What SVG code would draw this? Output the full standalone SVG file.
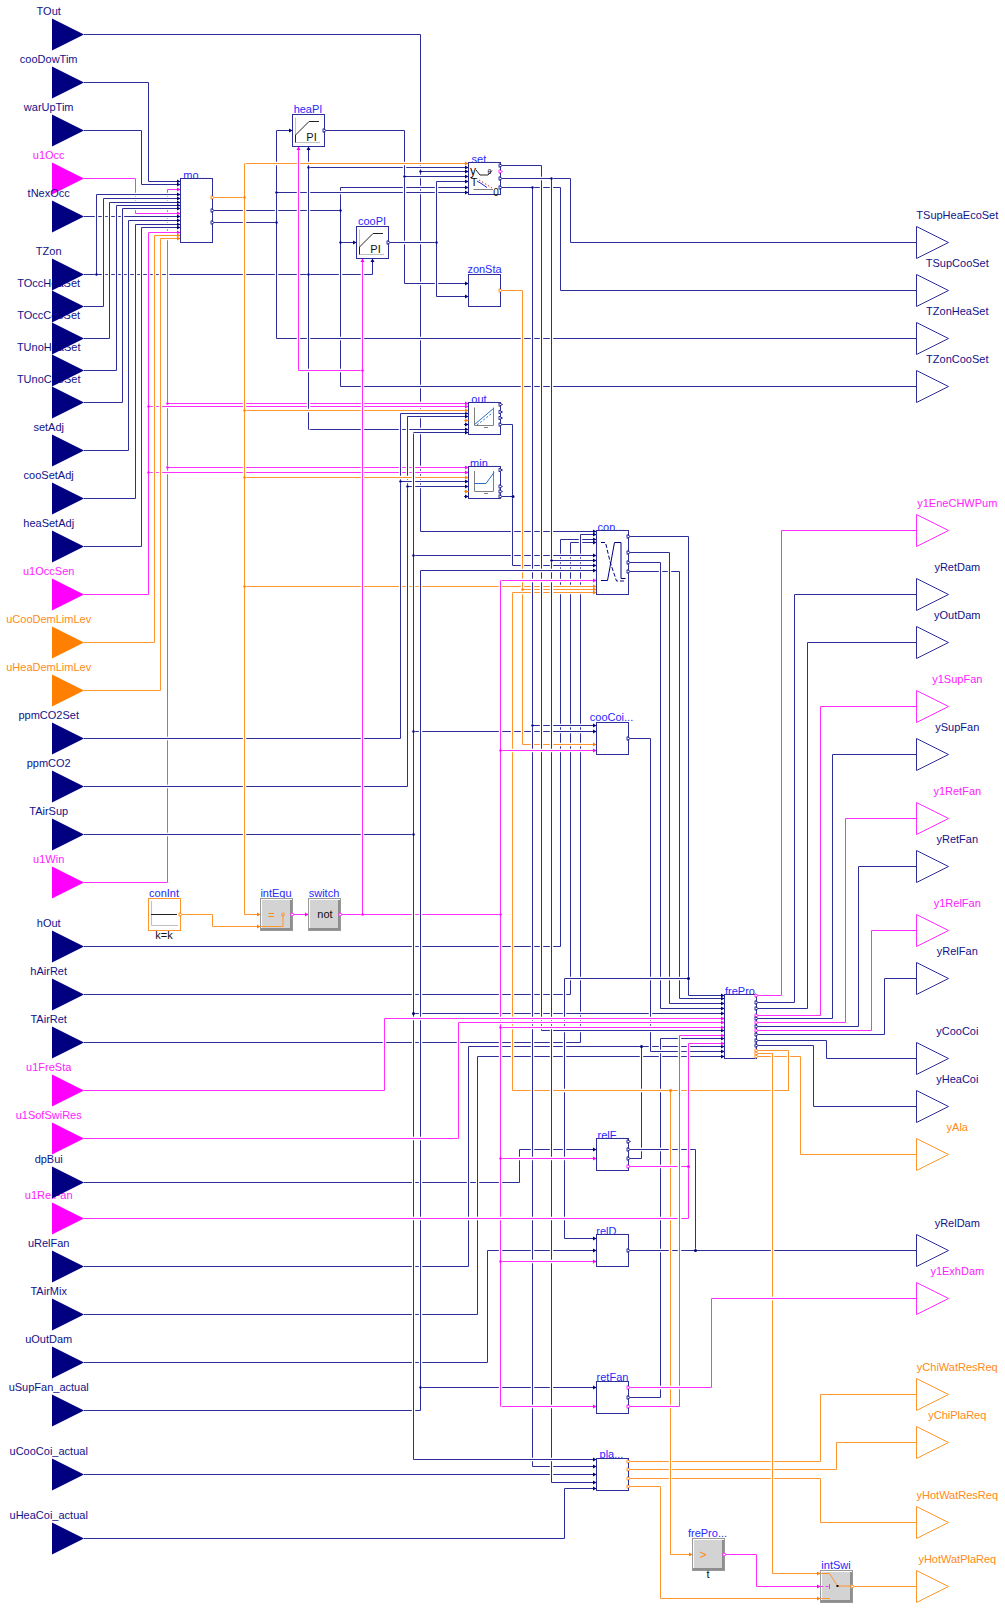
<svg xmlns="http://www.w3.org/2000/svg" width="1005" height="1609" viewBox="0 0 1005 1609">
<style>
text{font-family:"Liberation Sans",Arial,sans-serif;font-size:11px;text-anchor:middle}
.tn{fill:#12128a}.tm{fill:#ff20ff}.to{fill:#ff8a14}.tb{fill:#2828ff}.tk{fill:#111}
path{fill:none;stroke-linejoin:miter}
.c{stroke:#fff;stroke-width:3.4}
.n{stroke:#2e2e9a;stroke-width:1}.m{stroke:#ff2eff;stroke-width:1}.o{stroke:#ff952e;stroke-width:1}
.n.e{marker-end:url(#an)}.m.e{marker-end:url(#am)}.o.e{marker-end:url(#ao)}
.fn{fill:#000080;stroke:none}.fm{fill:#ff00ff;stroke:none}.fo{fill:#ff8000;stroke:none}
.on{fill:#fff;stroke:#2e2e9a}.om{fill:#fff;stroke:#ff2eff}.oo{fill:#fff;stroke:#ff952e}
.b{fill:#fff;stroke:#2e2e9a;stroke-width:1}
.g{fill:#fff;stroke:#999;stroke-width:1}.gi{fill:#d3d3d3;stroke:none}.gd{fill:#8e8e8e;stroke:none}
.ax{stroke:#c0c0c0;stroke-width:1}.k{stroke:#222;stroke-width:1}
.ib{stroke:#2a6fc0;stroke-width:1}.ax2{stroke:#808080;stroke-width:1}
.jn{fill:#000080}.jm{fill:#ff00ff}.jo{fill:#ff8000}
</style>
<defs>
<marker id="an" markerUnits="userSpaceOnUse" markerWidth="5" markerHeight="5" refX="4" refY="2.5" orient="auto"><path d="M0.5 0.5L4 2.5L0.5 4.5z" class="fn"/></marker>
<marker id="am" markerUnits="userSpaceOnUse" markerWidth="5" markerHeight="5" refX="4" refY="2.5" orient="auto"><path d="M0.5 0.5L4 2.5L0.5 4.5z" class="fm"/></marker>
<marker id="ao" markerUnits="userSpaceOnUse" markerWidth="5" markerHeight="5" refX="4" refY="2.5" orient="auto"><path d="M0.5 0.5L4 2.5L0.5 4.5z" class="fo"/></marker>
<path id="pn" class="on" d="M-1.5-1.8L2 0L-1.5 1.8z"/>
<path id="pm" class="om" d="M-1.5-1.8L2 0L-1.5 1.8z"/>
<path id="po" class="oo" d="M-1.5-1.8L2 0L-1.5 1.8z"/>
</defs>
<rect width="1005" height="1609" fill="#fff"/>
<g id="connectors">
<path class="c" d="M756.5 995.5H781.5V530.5H916.5"/><path class="m" d="M756.5 995.5H781.5V530.5H916.5"/>
<path class="c" d="M756.5 1002.5H794.5V594.5H916.5"/><path class="n" d="M756.5 1002.5H794.5V594.5H916.5"/>
<path class="c" d="M756.5 1008.5H807.5V642.5H916.5"/><path class="n" d="M756.5 1008.5H807.5V642.5H916.5"/>
<path class="c" d="M756.5 1015.5H820.5V706.5H916.5"/><path class="m" d="M756.5 1015.5H820.5V706.5H916.5"/>
<path class="c" d="M756.5 1018.5H832.5V754.5H916.5"/><path class="n" d="M756.5 1018.5H832.5V754.5H916.5"/>
<path class="c" d="M756.5 1022.5H845.5V818.5H916.5"/><path class="m" d="M756.5 1022.5H845.5V818.5H916.5"/>
<path class="c" d="M756.5 1026.5H858.5V866.5H916.5"/><path class="n" d="M756.5 1026.5H858.5V866.5H916.5"/>
<path class="c" d="M756.5 1030.5H871.5V930.5H916.5"/><path class="m" d="M756.5 1030.5H871.5V930.5H916.5"/>
<path class="c" d="M756.5 1034.5H884.5V978.5H916.5"/><path class="n" d="M756.5 1034.5H884.5V978.5H916.5"/>
<path class="c" d="M756.5 1040.5H826.5V1058.5H916.5"/><path class="n" d="M756.5 1040.5H826.5V1058.5H916.5"/>
<path class="c" d="M756.5 1045.5H813.5V1106.5H916.5"/><path class="n" d="M756.5 1045.5H813.5V1106.5H916.5"/>
<path class="c" d="M756.5 1056.5H800.5V1154.5H916.5"/><path class="o" d="M756.5 1056.5H800.5V1154.5H916.5"/>
<path class="c" d="M628.5 1461.5H820.5V1394.5H916.5"/><path class="o" d="M628.5 1461.5H820.5V1394.5H916.5"/>
<path class="c" d="M628.5 1469.5H836.5V1442.5H916.5"/><path class="o" d="M628.5 1469.5H836.5V1442.5H916.5"/>
<path class="c" d="M628.5 1478.5H820.5V1522.5H916.5"/><path class="o" d="M628.5 1478.5H820.5V1522.5H916.5"/>
<path class="c" d="M84 34.5H420.5V531.5H596.5"/><path class="n e" d="M84 34.5H420.5V531.5H596.5"/>
<path class="c" d="M420.5 171.5H468.5"/><path class="n e" d="M420.5 171.5H468.5"/>
<path class="c" d="M84 274.5H372.5V258.5"/><path class="n e" d="M84 274.5H372.5V258.5"/>
<path class="c" d="M212.5 210.5H340.5V242.5H356.5"/><path class="n e" d="M212.5 210.5H340.5V242.5H356.5"/>
<path class="c" d="M340.5 242.5V386.5H916.5"/><path class="n" d="M340.5 242.5V386.5H916.5"/>
<path class="c" d="M340.5 210.5V187.5H468.5"/><path class="n e" d="M340.5 210.5V187.5H468.5"/>
<path class="c" d="M212.5 222.5H276.5V130.5H292.5"/><path class="n e" d="M212.5 222.5H276.5V130.5H292.5"/>
<path class="c" d="M276.5 222.5V338.5H916.5"/><path class="n" d="M276.5 222.5V338.5H916.5"/>
<path class="c" d="M276.5 192.5H468.5"/><path class="n e" d="M276.5 192.5H468.5"/>
<path class="c" d="M500.5 178.5H570.5V242.5H916.5"/><path class="n" d="M500.5 178.5H570.5V242.5H916.5"/>
<path class="c" d="M500.5 187.5H560.5V290.5H916.5"/><path class="n" d="M500.5 187.5H560.5V290.5H916.5"/>
<path class="c" d="M84 882.5H167.5V189.5H180.5"/><path class="m e" d="M84 882.5H167.5V189.5H180.5"/>
<path class="c" d="M84 178.5H135.5V213.5H180.5"/><path class="m e" d="M84 178.5H135.5V213.5H180.5"/>
<path class="c" d="M84 216.5H180.5"/><path class="n e" d="M84 216.5H180.5"/>
<path class="c" d="M84 82.5H148.5V181.5H180.5"/><path class="n e" d="M84 82.5H148.5V181.5H180.5"/>
<path class="c" d="M84 130.5H141.5V184.5H180.5"/><path class="n e" d="M84 130.5H141.5V184.5H180.5"/>
<path class="c" d="M96.5 274.5V194.5H180.5"/><path class="n e" d="M96.5 274.5V194.5H180.5"/>
<path class="c" d="M84 306.5H103.5V198.5H180.5"/><path class="n e" d="M84 306.5H103.5V198.5H180.5"/>
<path class="c" d="M84 338.5H109.5V202.5H180.5"/><path class="n e" d="M84 338.5H109.5V202.5H180.5"/>
<path class="c" d="M84 370.5H116.5V205.5H180.5"/><path class="n e" d="M84 370.5H116.5V205.5H180.5"/>
<path class="c" d="M84 402.5H122.5V208.5H180.5"/><path class="n e" d="M84 402.5H122.5V208.5H180.5"/>
<path class="c" d="M84 450.5H128.5V220.5H180.5"/><path class="n e" d="M84 450.5H128.5V220.5H180.5"/>
<path class="c" d="M84 498.5H135.5V224.5H180.5"/><path class="n e" d="M84 498.5H135.5V224.5H180.5"/>
<path class="c" d="M84 546.5H141.5V227.5H180.5"/><path class="n e" d="M84 546.5H141.5V227.5H180.5"/>
<path class="c" d="M148.5 406.5H468.5"/><path class="m e" d="M148.5 406.5H468.5"/>
<path class="c" d="M148.5 472.5H468.5"/><path class="m e" d="M148.5 472.5H468.5"/>
<path class="c" d="M167.5 403.5H468.5"/><path class="m e" d="M167.5 403.5H468.5"/>
<path class="c" d="M167.5 467.5H468.5"/><path class="m e" d="M167.5 467.5H468.5"/>
<path class="c" d="M84 594.5H148.5V232.5H180.5"/><path class="m e" d="M84 594.5H148.5V232.5H180.5"/>
<path class="c" d="M84 642.5H154.5V235.5H180.5"/><path class="o e" d="M84 642.5H154.5V235.5H180.5"/>
<path class="c" d="M84 690.5H160.5V238.5H180.5"/><path class="o e" d="M84 690.5H160.5V238.5H180.5"/>
<path class="c" d="M84 834.5H413.5"/><path class="n" d="M84 834.5H413.5"/>
<path class="c" d="M84 946.5H560.5V539.5H596.5"/><path class="n e" d="M84 946.5H560.5V539.5H596.5"/>
<path class="c" d="M84 994.5H570.5V542.5H596.5"/><path class="n e" d="M84 994.5H570.5V542.5H596.5"/>
<path class="c" d="M84 1042.5H580.5V534.5H596.5"/><path class="n e" d="M84 1042.5H580.5V534.5H596.5"/>
<path class="c" d="M84 1182.5H519.5V1149.5H596.5"/><path class="n e" d="M84 1182.5H519.5V1149.5H596.5"/>
<path class="c" d="M84 1266.5H468.5V1046.5H724.5"/><path class="n e" d="M84 1266.5H468.5V1046.5H724.5"/>
<path class="c" d="M84 1314.5H477.5V1056.5H724.5"/><path class="n e" d="M84 1314.5H477.5V1056.5H724.5"/>
<path class="c" d="M84 1362.5H487.5V1250.5H596.5"/><path class="n e" d="M84 1362.5H487.5V1250.5H596.5"/>
<path class="c" d="M84 1474.5H596.5"/><path class="n e" d="M84 1474.5H596.5"/>
<path class="c" d="M84 1538.5H564.5V1488.5H596.5"/><path class="n e" d="M84 1538.5H564.5V1488.5H596.5"/>
<path class="c" d="M420.5 1387.5H596.5"/><path class="n e" d="M420.5 1387.5H596.5"/>
<path class="c" d="M413.5 555.5H596.5"/><path class="n e" d="M413.5 555.5H596.5"/>
<path class="c" d="M413.5 731.5H596.5"/><path class="n e" d="M413.5 731.5H596.5"/>
<path class="c" d="M413.5 1013.5H724.5"/><path class="n e" d="M413.5 1013.5H724.5"/>
<path class="c" d="M244.5 586.5H596.5"/><path class="o e" d="M244.5 586.5H596.5"/>
<path class="c" d="M308.5 429.5H468.5"/><path class="n e" d="M308.5 429.5H468.5"/>
<path class="c" d="M84 738.5H400.5V413.5H468.5"/><path class="n e" d="M84 738.5H400.5V413.5H468.5"/>
<path class="c" d="M84 786.5H407.5V416.5H468.5"/><path class="n e" d="M84 786.5H407.5V416.5H468.5"/>
<path class="c" d="M400.5 481.5H468.5"/><path class="n e" d="M400.5 481.5H468.5"/>
<path class="c" d="M407.5 486.5H468.5"/><path class="n e" d="M407.5 486.5H468.5"/>
<path class="c" d="M308.5 167.5H468.5"/><path class="n e" d="M308.5 167.5H468.5"/>
<path class="c" d="M308.5 274.5V146.5"/><path class="n e" d="M308.5 274.5V146.5"/>
<path class="c" d="M308.5 274.5V429.5"/><path class="n" d="M308.5 274.5V429.5"/>
<path class="c" d="M324.5 130.5H404.5V283.5H468.5"/><path class="n e" d="M324.5 130.5H404.5V283.5H468.5"/>
<path class="c" d="M404.5 176.5H468.5"/><path class="n e" d="M404.5 176.5H468.5"/>
<path class="c" d="M388.5 242.5H436.5"/><path class="n" d="M388.5 242.5H436.5"/>
<path class="c" d="M436.5 242.5V181.5H468.5"/><path class="n e" d="M436.5 242.5V181.5H468.5"/>
<path class="c" d="M436.5 242.5V296.5H468.5"/><path class="n e" d="M436.5 242.5V296.5H468.5"/>
<path class="c" d="M212.5 197.5H244.5"/><path class="o" d="M212.5 197.5H244.5"/>
<path class="c" d="M244.5 163.5H468.5"/><path class="o e" d="M244.5 163.5H468.5"/>
<path class="c" d="M244.5 410.5H468.5"/><path class="o e" d="M244.5 410.5H468.5"/>
<path class="c" d="M244.5 477.5H468.5"/><path class="o e" d="M244.5 477.5H468.5"/>
<path class="c" d="M244.5 163.5V914.5H260.5"/><path class="o e" d="M244.5 163.5V914.5H260.5"/>
<path class="c" d="M180.5 914.5H212.5V926.5H260.5"/><path class="o e" d="M180.5 914.5H212.5V926.5H260.5"/>
<path class="c" d="M292.5 914.5H308.5"/><path class="m e" d="M292.5 914.5H308.5"/>
<path class="c" d="M340.5 914.5H500.5"/><path class="m" d="M340.5 914.5H500.5"/>
<path class="c" d="M362.5 370.5H298.5V146.5"/><path class="m e" d="M362.5 370.5H298.5V146.5"/>
<path class="c" d="M362.5 914.5V258.5"/><path class="m e" d="M362.5 914.5V258.5"/>
<path class="c" d="M500.5 424.5H512.5V565.5H596.5"/><path class="n e" d="M500.5 424.5H512.5V565.5H596.5"/>
<path class="c" d="M500.5 496.5H512.5"/><path class="n" d="M500.5 496.5H512.5"/>
<path class="c" d="M628.5 1397.5H660.5V1038.5H724.5"/><path class="n e" d="M628.5 1397.5H660.5V1038.5H724.5"/>
<path class="c" d="M628.5 738.5H650.5V1051.5H724.5"/><path class="n e" d="M628.5 738.5H650.5V1051.5H724.5"/>
<path class="c" d="M628.5 571.5H679.5V998.5H724.5"/><path class="n e" d="M628.5 571.5H679.5V998.5H724.5"/>
<path class="c" d="M628.5 552.5H669.5V1003.5H724.5"/><path class="n e" d="M628.5 552.5H669.5V1003.5H724.5"/>
<path class="c" d="M628.5 562.5H660.5V1008.5H724.5"/><path class="n e" d="M628.5 562.5H660.5V1008.5H724.5"/>
<path class="c" d="M628.5 536.5H688.5V995.5H724.5"/><path class="n e" d="M628.5 536.5H688.5V995.5H724.5"/>
<path class="c" d="M688.5 978.5H564.5V1238.5H596.5"/><path class="n e" d="M688.5 978.5H564.5V1238.5H596.5"/>
<path class="c" d="M628.5 1158.5H641.5V1046.5"/><path class="n" d="M628.5 1158.5H641.5V1046.5"/>
<path class="c" d="M628.5 1149.5H695.5V1250.5"/><path class="n" d="M628.5 1149.5H695.5V1250.5"/>
<path class="c" d="M628.5 1250.5H916.5"/><path class="n" d="M628.5 1250.5H916.5"/>
<path class="c" d="M500.5 290.5H522.5V744.5H596.5"/><path class="o e" d="M500.5 290.5H522.5V744.5H596.5"/>
<path class="c" d="M522.5 589.5H596.5"/><path class="o e" d="M522.5 589.5H596.5"/>
<path class="c" d="M756.5 1050.5H788.5V1090.5H512.5V592.5H596.5"/><path class="o e" d="M756.5 1050.5H788.5V1090.5H512.5V592.5H596.5"/>
<path class="c" d="M670.5 1090.5V1554.5H692.5"/><path class="o e" d="M670.5 1090.5V1554.5H692.5"/>
<path class="c" d="M756.5 1053.5H772.5V1573.5H820.5"/><path class="o e" d="M756.5 1053.5H772.5V1573.5H820.5"/>
<path class="c" d="M628.5 1486.5H660.5V1598.5H820.5"/><path class="o e" d="M628.5 1486.5H660.5V1598.5H820.5"/>
<path class="c" d="M500.5 187.5H532.5V1466.5H596.5"/><path class="n e" d="M500.5 187.5H532.5V1466.5H596.5"/>
<path class="c" d="M532.5 725.5H596.5"/><path class="n e" d="M532.5 725.5H596.5"/>
<path class="c" d="M500.5 165.5H541.5V1030.5H724.5"/><path class="n e" d="M500.5 165.5H541.5V1030.5H724.5"/>
<path class="c" d="M500.5 178.5H551.5V1482.5H596.5"/><path class="n e" d="M500.5 178.5H551.5V1482.5H596.5"/>
<path class="c" d="M551.5 560.5H596.5"/><path class="n e" d="M551.5 560.5H596.5"/>
<path class="c" d="M84 1410.5H420.5V570.5H596.5"/><path class="n e" d="M84 1410.5H420.5V570.5H596.5"/>
<path class="c" d="M413.5 432.5V1459.5H596.5"/><path class="n e" d="M413.5 432.5V1459.5H596.5"/>
<path class="c" d="M413.5 432.5H468.5"/><path class="n e" d="M413.5 432.5H468.5"/>
<path class="c" d="M500.5 580.5H596.5"/><path class="m e" d="M500.5 580.5H596.5"/>
<path class="c" d="M500.5 750.5H596.5"/><path class="m e" d="M500.5 750.5H596.5"/>
<path class="c" d="M500.5 1027.5H724.5"/><path class="m e" d="M500.5 1027.5H724.5"/>
<path class="c" d="M500.5 1158.5H596.5"/><path class="m e" d="M500.5 1158.5H596.5"/>
<path class="c" d="M500.5 1261.5H596.5"/><path class="m e" d="M500.5 1261.5H596.5"/>
<path class="c" d="M500.5 1406.5H596.5"/><path class="m e" d="M500.5 1406.5H596.5"/>
<path class="c" d="M500.5 580.5V1406.5"/><path class="m" d="M500.5 580.5V1406.5"/>
<path class="c" d="M84 1090.5H384.5V1018.5H724.5"/><path class="m e" d="M84 1090.5H384.5V1018.5H724.5"/>
<path class="c" d="M84 1138.5H458.5V1022.5H724.5"/><path class="m e" d="M84 1138.5H458.5V1022.5H724.5"/>
<path class="c" d="M84 1218.5H688.5V1043.5H724.5"/><path class="m e" d="M84 1218.5H688.5V1043.5H724.5"/>
<path class="c" d="M628.5 1166.5H688.5"/><path class="m" d="M628.5 1166.5H688.5"/>
<path class="c" d="M628.5 1406.5H679.5V1035.5H724.5"/><path class="m e" d="M628.5 1406.5H679.5V1035.5H724.5"/>
<path class="c" d="M628.5 1387.5H711.5V1298.5H916.5"/><path class="m" d="M628.5 1387.5H711.5V1298.5H916.5"/>
<path class="c" d="M724.5 1554.5H756.5V1586.5H820.5"/><path class="m e" d="M724.5 1554.5H756.5V1586.5H820.5"/>
<path class="o" d="M852.5 1586.5H916.5"/>
<g class="jn">
<circle cx="96.5" cy="274.5" r="1.2"/><circle cx="308.5" cy="274.5" r="1.2"/><circle cx="308.5" cy="167.5" r="1.2"/><circle cx="276.5" cy="192.5" r="1.2"/><circle cx="276.5" cy="222.5" r="1.2"/><circle cx="340.5" cy="210.5" r="1.2"/><circle cx="340.5" cy="242.5" r="1.2"/><circle cx="420.5" cy="171.5" r="1.2"/><circle cx="404.5" cy="176.5" r="1.2"/><circle cx="436.5" cy="242.5" r="1.2"/><circle cx="551.5" cy="178.5" r="1.2"/><circle cx="532.5" cy="187.5" r="1.2"/><circle cx="400.5" cy="481.5" r="1.2"/><circle cx="407.5" cy="486.5" r="1.2"/><circle cx="413.5" cy="555.5" r="1.2"/><circle cx="551.5" cy="560.5" r="1.2"/><circle cx="413.5" cy="731.5" r="1.2"/><circle cx="532.5" cy="725.5" r="1.2"/><circle cx="413.5" cy="834.5" r="1.2"/><circle cx="513" cy="496.5" r="1.5"/><circle cx="688.5" cy="978.5" r="1.5"/><circle cx="413.5" cy="1013.5" r="1.5"/><circle cx="641.5" cy="1046.5" r="1.5"/><circle cx="695.5" cy="1250.5" r="1.5"/><circle cx="420.5" cy="1387.5" r="1.2"/>
</g>
<g class="jm">
<circle cx="148.5" cy="406.5" r="1.2"/><circle cx="167.5" cy="403.5" r="1.2"/><circle cx="148.5" cy="472.5" r="1.2"/><circle cx="167.5" cy="467.5" r="1.2"/><circle cx="362.5" cy="370.5" r="1.2"/><circle cx="362.5" cy="914.5" r="1.2"/><circle cx="500.5" cy="750.5" r="1.2"/><circle cx="500.5" cy="914.5" r="1.2"/><circle cx="500.5" cy="1027.5" r="1.2"/><circle cx="500.5" cy="1158.5" r="1.2"/><circle cx="500.5" cy="1261.5" r="1.2"/><circle cx="688.5" cy="1166.5" r="1.5"/>
</g>
<g class="jo">
<circle cx="244.5" cy="197.5" r="1.2"/><circle cx="244.5" cy="410.5" r="1.2"/><circle cx="244.5" cy="477.5" r="1.2"/><circle cx="244.5" cy="586.5" r="1.2"/><circle cx="522.5" cy="589.5" r="1.2"/><circle cx="670.5" cy="1090.5" r="1.5"/>
</g>
</g>
<g id="inputs">
<g id="TOut"><text class="tn" x="48.7" y="14.5">TOut</text><path class="fn" d="M52 18.5L84 34.5L52 50.5z"/></g>
<g id="cooDowTim"><text class="tn" x="48.7" y="62.5">cooDowTim</text><path class="fn" d="M52 66.5L84 82.5L52 98.5z"/></g>
<g id="warUpTim"><text class="tn" x="48.7" y="110.5">warUpTim</text><path class="fn" d="M52 114.5L84 130.5L52 146.5z"/></g>
<g id="u1Occ"><text class="tm" x="48.7" y="158.5">u1Occ</text><path class="fm" d="M52 162.5L84 178.5L52 194.5z"/></g>
<g id="tNexOcc"><text class="tn" x="48.7" y="196.5">tNexOcc</text><path class="fn" d="M52 200.5L84 216.5L52 232.5z"/></g>
<g id="TUnoCooSet"><text class="tn" x="48.7" y="382.5">TUnoCooSet</text><path class="fn" d="M52 386.5L84 402.5L52 418.5z"/></g>
<g id="TUnoHeaSet"><text class="tn" x="48.7" y="350.5">TUnoHeaSet</text><path class="fn" d="M52 354.5L84 370.5L52 386.5z"/></g>
<g id="TOccCooSet"><text class="tn" x="48.7" y="318.5">TOccCooSet</text><path class="fn" d="M52 322.5L84 338.5L52 354.5z"/></g>
<g id="TOccHeaSet"><text class="tn" x="48.7" y="286.5">TOccHeaSet</text><path class="fn" d="M52 290.5L84 306.5L52 322.5z"/></g>
<g id="TZon"><text class="tn" x="48.7" y="254.5">TZon</text><path class="fn" d="M52 258.5L84 274.5L52 290.5z"/></g>
<g id="setAdj"><text class="tn" x="48.7" y="430.5">setAdj</text><path class="fn" d="M52 434.5L84 450.5L52 466.5z"/></g>
<g id="cooSetAdj"><text class="tn" x="48.7" y="478.5">cooSetAdj</text><path class="fn" d="M52 482.5L84 498.5L52 514.5z"/></g>
<g id="heaSetAdj"><text class="tn" x="48.7" y="526.5">heaSetAdj</text><path class="fn" d="M52 530.5L84 546.5L52 562.5z"/></g>
<g id="u1OccSen"><text class="tm" x="48.7" y="574.5">u1OccSen</text><path class="fm" d="M52 578.5L84 594.5L52 610.5z"/></g>
<g id="uCooDemLimLev"><text class="to" x="48.7" y="622.5">uCooDemLimLev</text><path class="fo" d="M52 626.5L84 642.5L52 658.5z"/></g>
<g id="uHeaDemLimLev"><text class="to" x="48.7" y="670.5">uHeaDemLimLev</text><path class="fo" d="M52 674.5L84 690.5L52 706.5z"/></g>
<g id="ppmCO2Set"><text class="tn" x="48.7" y="718.5">ppmCO2Set</text><path class="fn" d="M52 722.5L84 738.5L52 754.5z"/></g>
<g id="ppmCO2"><text class="tn" x="48.7" y="766.5">ppmCO2</text><path class="fn" d="M52 770.5L84 786.5L52 802.5z"/></g>
<g id="TAirSup"><text class="tn" x="48.7" y="814.5">TAirSup</text><path class="fn" d="M52 818.5L84 834.5L52 850.5z"/></g>
<g id="u1Win"><text class="tm" x="48.7" y="862.5">u1Win</text><path class="fm" d="M52 866.5L84 882.5L52 898.5z"/></g>
<g id="hOut"><text class="tn" x="48.7" y="926.5">hOut</text><path class="fn" d="M52 930.5L84 946.5L52 962.5z"/></g>
<g id="hAirRet"><text class="tn" x="48.7" y="974.5">hAirRet</text><path class="fn" d="M52 978.5L84 994.5L52 1010.5z"/></g>
<g id="TAirRet"><text class="tn" x="48.7" y="1022.5">TAirRet</text><path class="fn" d="M52 1026.5L84 1042.5L52 1058.5z"/></g>
<g id="u1FreSta"><text class="tm" x="48.7" y="1070.5">u1FreSta</text><path class="fm" d="M52 1074.5L84 1090.5L52 1106.5z"/></g>
<g id="u1SofSwiRes"><text class="tm" x="48.7" y="1118.5">u1SofSwiRes</text><path class="fm" d="M52 1122.5L84 1138.5L52 1154.5z"/></g>
<g id="u1RelFan"><text class="tm" x="48.7" y="1198.5">u1RelFan</text><path class="fm" d="M52 1202.5L84 1218.5L52 1234.5z"/></g>
<g id="dpBui"><text class="tn" x="48.7" y="1162.5">dpBui</text><path class="fn" d="M52 1166.5L84 1182.5L52 1198.5z"/></g>
<g id="uRelFan"><text class="tn" x="48.7" y="1246.5">uRelFan</text><path class="fn" d="M52 1250.5L84 1266.5L52 1282.5z"/></g>
<g id="TAirMix"><text class="tn" x="48.7" y="1294.5">TAirMix</text><path class="fn" d="M52 1298.5L84 1314.5L52 1330.5z"/></g>
<g id="uOutDam"><text class="tn" x="48.7" y="1342.5">uOutDam</text><path class="fn" d="M52 1346.5L84 1362.5L52 1378.5z"/></g>
<g id="uSupFan_actual"><text class="tn" x="48.7" y="1390.5">uSupFan_actual</text><path class="fn" d="M52 1394.5L84 1410.5L52 1426.5z"/></g>
<g id="uCooCoi_actual"><text class="tn" x="48.7" y="1454.5">uCooCoi_actual</text><path class="fn" d="M52 1458.5L84 1474.5L52 1490.5z"/></g>
<g id="uHeaCoi_actual"><text class="tn" x="48.7" y="1518.5">uHeaCoi_actual</text><path class="fn" d="M52 1522.5L84 1538.5L52 1554.5z"/></g>
</g>
<g id="outputs">
<g id="TSupHeaEcoSet"><text class="tn" x="957.3" y="218.5">TSupHeaEcoSet</text><path class="on" d="M916.5 226.5L948.5 242.5L916.5 258.5z"/></g>
<g id="TSupCooSet"><text class="tn" x="957.3" y="266.5">TSupCooSet</text><path class="on" d="M916.5 274.5L948.5 290.5L916.5 306.5z"/></g>
<g id="TZonHeaSet"><text class="tn" x="957.3" y="314.5">TZonHeaSet</text><path class="on" d="M916.5 322.5L948.5 338.5L916.5 354.5z"/></g>
<g id="TZonCooSet"><text class="tn" x="957.3" y="362.5">TZonCooSet</text><path class="on" d="M916.5 370.5L948.5 386.5L916.5 402.5z"/></g>
<g id="y1EneCHWPum"><text class="tm" x="957.3" y="506.5">y1EneCHWPum</text><path class="om" d="M916.5 514.5L948.5 530.5L916.5 546.5z"/></g>
<g id="yRetDam"><text class="tn" x="957.3" y="570.5">yRetDam</text><path class="on" d="M916.5 578.5L948.5 594.5L916.5 610.5z"/></g>
<g id="yOutDam"><text class="tn" x="957.3" y="618.5">yOutDam</text><path class="on" d="M916.5 626.5L948.5 642.5L916.5 658.5z"/></g>
<g id="y1SupFan"><text class="tm" x="957.3" y="682.5">y1SupFan</text><path class="om" d="M916.5 690.5L948.5 706.5L916.5 722.5z"/></g>
<g id="ySupFan"><text class="tn" x="957.3" y="730.5">ySupFan</text><path class="on" d="M916.5 738.5L948.5 754.5L916.5 770.5z"/></g>
<g id="y1RetFan"><text class="tm" x="957.3" y="794.5">y1RetFan</text><path class="om" d="M916.5 802.5L948.5 818.5L916.5 834.5z"/></g>
<g id="yRetFan"><text class="tn" x="957.3" y="842.5">yRetFan</text><path class="on" d="M916.5 850.5L948.5 866.5L916.5 882.5z"/></g>
<g id="y1RelFan"><text class="tm" x="957.3" y="906.5">y1RelFan</text><path class="om" d="M916.5 914.5L948.5 930.5L916.5 946.5z"/></g>
<g id="yRelFan"><text class="tn" x="957.3" y="954.5">yRelFan</text><path class="on" d="M916.5 962.5L948.5 978.5L916.5 994.5z"/></g>
<g id="yCooCoi"><text class="tn" x="957.3" y="1034.5">yCooCoi</text><path class="on" d="M916.5 1042.5L948.5 1058.5L916.5 1074.5z"/></g>
<g id="yHeaCoi"><text class="tn" x="957.3" y="1082.5">yHeaCoi</text><path class="on" d="M916.5 1090.5L948.5 1106.5L916.5 1122.5z"/></g>
<g id="yAla"><text class="to" x="957.3" y="1130.5">yAla</text><path class="oo" d="M916.5 1138.5L948.5 1154.5L916.5 1170.5z"/></g>
<g id="yRelDam"><text class="tn" x="957.3" y="1226.5">yRelDam</text><path class="on" d="M916.5 1234.5L948.5 1250.5L916.5 1266.5z"/></g>
<g id="y1ExhDam"><text class="tm" x="957.3" y="1274.5">y1ExhDam</text><path class="om" d="M916.5 1282.5L948.5 1298.5L916.5 1314.5z"/></g>
<g id="yChiWatResReq"><text class="to" x="957.3" y="1370.5">yChiWatResReq</text><path class="oo" d="M916.5 1378.5L948.5 1394.5L916.5 1410.5z"/></g>
<g id="yChiPlaReq"><text class="to" x="957.3" y="1418.5">yChiPlaReq</text><path class="oo" d="M916.5 1426.5L948.5 1442.5L916.5 1458.5z"/></g>
<g id="yHotWatResReq"><text class="to" x="957.3" y="1498.5">yHotWatResReq</text><path class="oo" d="M916.5 1506.5L948.5 1522.5L916.5 1538.5z"/></g>
<g id="yHotWatPlaReq"><text class="to" x="957.3" y="1562.5">yHotWatPlaReq</text><path class="oo" d="M916.5 1570.5L948.5 1586.5L916.5 1602.5z"/></g>
</g>
<g id="mo"><text class="tb" x="195.5" y="178.5">mo...</text><rect class="b" x="180.5" y="178.5" width="32" height="64"/>
<use href="#po" x="212.5" y="197.5"/><use href="#pn" x="212.5" y="210.5"/><use href="#pn" x="212.5" y="222.5"/></g>
<g id="heaPI"><text class="tb" x="308" y="112.5">heaPI</text><rect class="b" x="292.5" y="114.5" width="32" height="32"/>
<path class="ax" d="M295.5 117.5V142.5H320"/><path class="k" d="M295.5 142.5V135L309 121.5H319"/>
<text class="tk" x="311.5" y="141">PI</text><use href="#pn" x="324.5" y="130.5"/></g>
<g id="cooPI"><text class="tb" x="372" y="224.5">cooPI</text><rect class="b" x="356.5" y="226.5" width="32" height="32"/>
<path class="ax" d="M359.5 229.5V254.5H384"/><path class="k" d="M359.5 254.5V247L373 233.5H383"/>
<text class="tk" x="375.5" y="253">PI</text><use href="#pn" x="388.5" y="242.5"/></g>
<g id="set"><text class="tb" x="483.5" y="163">set...</text><rect class="b" x="468.5" y="162.5" width="32" height="32"/>
<path class="ax2" d="M473.5 189.5H493"/><path class="k" d="M476 170L480 175H488L492 170.5"/><path style="stroke:#2222cc" d="M477 181L482 184L487 187.5"/><path style="stroke:#e02020" stroke-dasharray="1.5 2" d="M479 180L484 183L492 188"/>
<text class="tk" x="473" y="174.5" style="font-size:12px">y</text><text class="tk" x="474" y="186" style="font-size:11px">T</text><text class="tk" x="489.5" y="174" style="font-size:7px">θ</text><text class="tk" x="496" y="196" style="font-size:10px">0</text>
<use href="#pn" x="500.5" y="165.5"/><use href="#pm" x="500.5" y="171.5"/><use href="#pn" x="500.5" y="178.5"/><use href="#pn" x="500.5" y="187.5"/></g>
<g id="zonSta"><text class="tb" x="484.5" y="272.5">zonSta</text><rect class="b" x="468.5" y="274.5" width="32" height="32"/><use href="#po" x="500.5" y="290.5"/></g>
<g id="out"><text class="tb" x="483.5" y="403">out...</text><rect class="b" x="468.5" y="402.5" width="32" height="32"/>
<path class="ax2" d="M474.5 407.5V425.5H493.5V407.5"/><path class="ib" d="M474.5 424.5L493.5 408.5"/><path class="ib" d="M477 425L493 412.5" stroke-dasharray="2 2"/><path class="ax2" d="M484 427.5H488"/>
<path class="o e" d="M464 420.5H468.5"/><path class="n e" d="M464 424.5H468.5"/>
<use href="#pn" x="500.5" y="404.5"/><use href="#pn" x="500.5" y="412"/><use href="#pn" x="500.5" y="418"/><use href="#pn" x="500.5" y="424.5"/></g>
<g id="min"><text class="tb" x="483.5" y="467">min...</text><rect class="b" x="468.5" y="466.5" width="32" height="32"/>
<path class="ax2" d="M474.5 471V491.5H493.5V471"/><path class="ib" d="M474.5 483.5H486L494 472.5"/><path class="ax2" d="M484 493.5H488"/>
<path class="o e" d="M464 491.5H468.5"/><path class="n e" d="M464 496.5H468.5"/>
<use href="#pn" x="500.5" y="470"/><use href="#pn" x="500.5" y="486.5"/><use href="#pn" x="500.5" y="491.5"/><use href="#pn" x="500.5" y="496.5"/></g>
<g id="con"><text class="tb" x="611" y="531">con...</text><rect class="b" x="596.5" y="530.5" width="32" height="64"/>
<path style="stroke:#000080" d="M601 580.5H607.5L614.5 542.5H621V578.5H625.5"/><path style="stroke:#000080" stroke-dasharray="4 2" d="M601 542.5H605.5L610 561.5L616.5 581H625"/>
<use href="#pn" x="628.5" y="536.5"/><use href="#pn" x="628.5" y="552.5"/><use href="#pn" x="628.5" y="562.5"/><use href="#pn" x="628.5" y="571.5"/></g>
<g id="cooCoi"><text class="tb" x="611.5" y="721">cooCoi...</text><rect class="b" x="596.5" y="722.5" width="32" height="32"/><use href="#pn" x="628.5" y="738.5"/></g>
<g id="frePro"><text class="tb" x="740" y="994.5">frePro</text><rect class="b" x="724.5" y="994.5" width="32" height="64"/>
<use href="#pm" x="756.5" y="995.5"/><use href="#pn" x="756.5" y="1002.5"/><use href="#pn" x="756.5" y="1008.5"/><use href="#pm" x="756.5" y="1015.5"/><use href="#pn" x="756.5" y="1018.5"/><use href="#pm" x="756.5" y="1022.5"/><use href="#pn" x="756.5" y="1026.5"/><use href="#pm" x="756.5" y="1030.5"/><use href="#pn" x="756.5" y="1034.5"/><use href="#pn" x="756.5" y="1040.5"/><use href="#pn" x="756.5" y="1045.5"/><use href="#po" x="756.5" y="1050.5"/><use href="#po" x="756.5" y="1053.5"/><use href="#po" x="756.5" y="1056.5"/></g>
<g id="relF"><text class="tb" x="611" y="1139">relF...</text><rect class="b" x="596.5" y="1138.5" width="32" height="32"/>
<use href="#pn" x="628.5" y="1141.5"/><use href="#pn" x="628.5" y="1149.5"/><use href="#pn" x="628.5" y="1158.5"/><use href="#pm" x="628.5" y="1166.5"/></g>
<g id="relD"><text class="tb" x="611" y="1235">relD...</text><rect class="b" x="596.5" y="1234.5" width="32" height="32"/><use href="#pn" x="628.5" y="1250.5"/></g>
<g id="retFan"><text class="tb" x="612.5" y="1381">retFan</text><rect class="b" x="596.5" y="1381.5" width="32" height="32"/>
<use href="#pm" x="628.5" y="1387.5"/><use href="#pn" x="628.5" y="1397.5"/><use href="#pm" x="628.5" y="1406.5"/></g>
<g id="pla"><text class="tb" x="611.5" y="1458">pla...</text><rect class="b" x="596.5" y="1458.5" width="32" height="32"/>
<use href="#po" x="628.5" y="1461.5"/><use href="#po" x="628.5" y="1469.5"/><use href="#po" x="628.5" y="1478.5"/><use href="#po" x="628.5" y="1486.5"/></g>
<g id="conInt"><text class="tb" x="164" y="896.5">conInt</text><rect x="148.5" y="898.5" width="32" height="32" fill="#fff" stroke="#ff952e"/>
<path class="ax" d="M151.5 901V925.5H178"/><path class="k" d="M151 914.5H177"/><text class="tk" x="164" y="939">k=k</text><use href="#po" x="180.5" y="914.5"/></g>
<g id="intEqu"><text class="tb" x="276" y="896.5">intEqu</text><rect class="g" x="260.5" y="898.5" width="32" height="32"/><rect class="gi" x="262" y="900" width="28" height="28"/><path class="gd" d="M290 900h2v30h-31v-2h29z"/>
<text class="to" x="271.5" y="918.5">=</text><path class="o" d="M260.5 926.5H283V914.5"/><circle cx="283" cy="914.5" r="1.5" fill="none" stroke="#ff952e"/><use href="#pm" x="292.5" y="914.5"/></g>
<g id="switch"><text class="tb" x="324" y="896.5">switch</text><rect class="g" x="308.5" y="898.5" width="32" height="32"/><rect class="gi" x="310" y="900" width="28" height="28"/><path class="gd" d="M338 900h2v30h-31v-2h29z"/>
<text class="tk" x="325" y="917.5">not</text><use href="#pm" x="340.5" y="914.5"/></g>
<g id="frePro1"><text class="tb" x="707.5" y="1536.5">frePro...</text><rect class="g" x="692.5" y="1538.5" width="32" height="32"/><rect class="gi" x="694" y="1540" width="28" height="28"/><path class="gd" d="M722 1540h2v30h-31v-2h29z"/>
<text class="to" x="703" y="1558.5" style="font-size:12px">&gt;</text><text class="tk" x="708" y="1577.5">t</text><use href="#pm" x="724.5" y="1554.5"/></g>
<g id="intSwi"><text class="tb" x="836" y="1568.5">intSwi</text><rect class="g" x="820.5" y="1570.5" width="32" height="32"/><rect class="gi" x="822" y="1572" width="28" height="28"/><path class="gd" d="M850 1572h2v30h-31v-2h29z"/>
<path class="o" d="M820.5 1573.5H829.5L837.5 1586H852M820.5 1598.5H830"/><path class="m" stroke-dasharray="3 2" d="M820.5 1586.5H829"/><path class="m" d="M829.5 1584V1589"/><rect x="836.5" y="1585" width="2" height="2" fill="#111"/><use href="#po" x="852.5" y="1586.5"/></g>
</svg>
